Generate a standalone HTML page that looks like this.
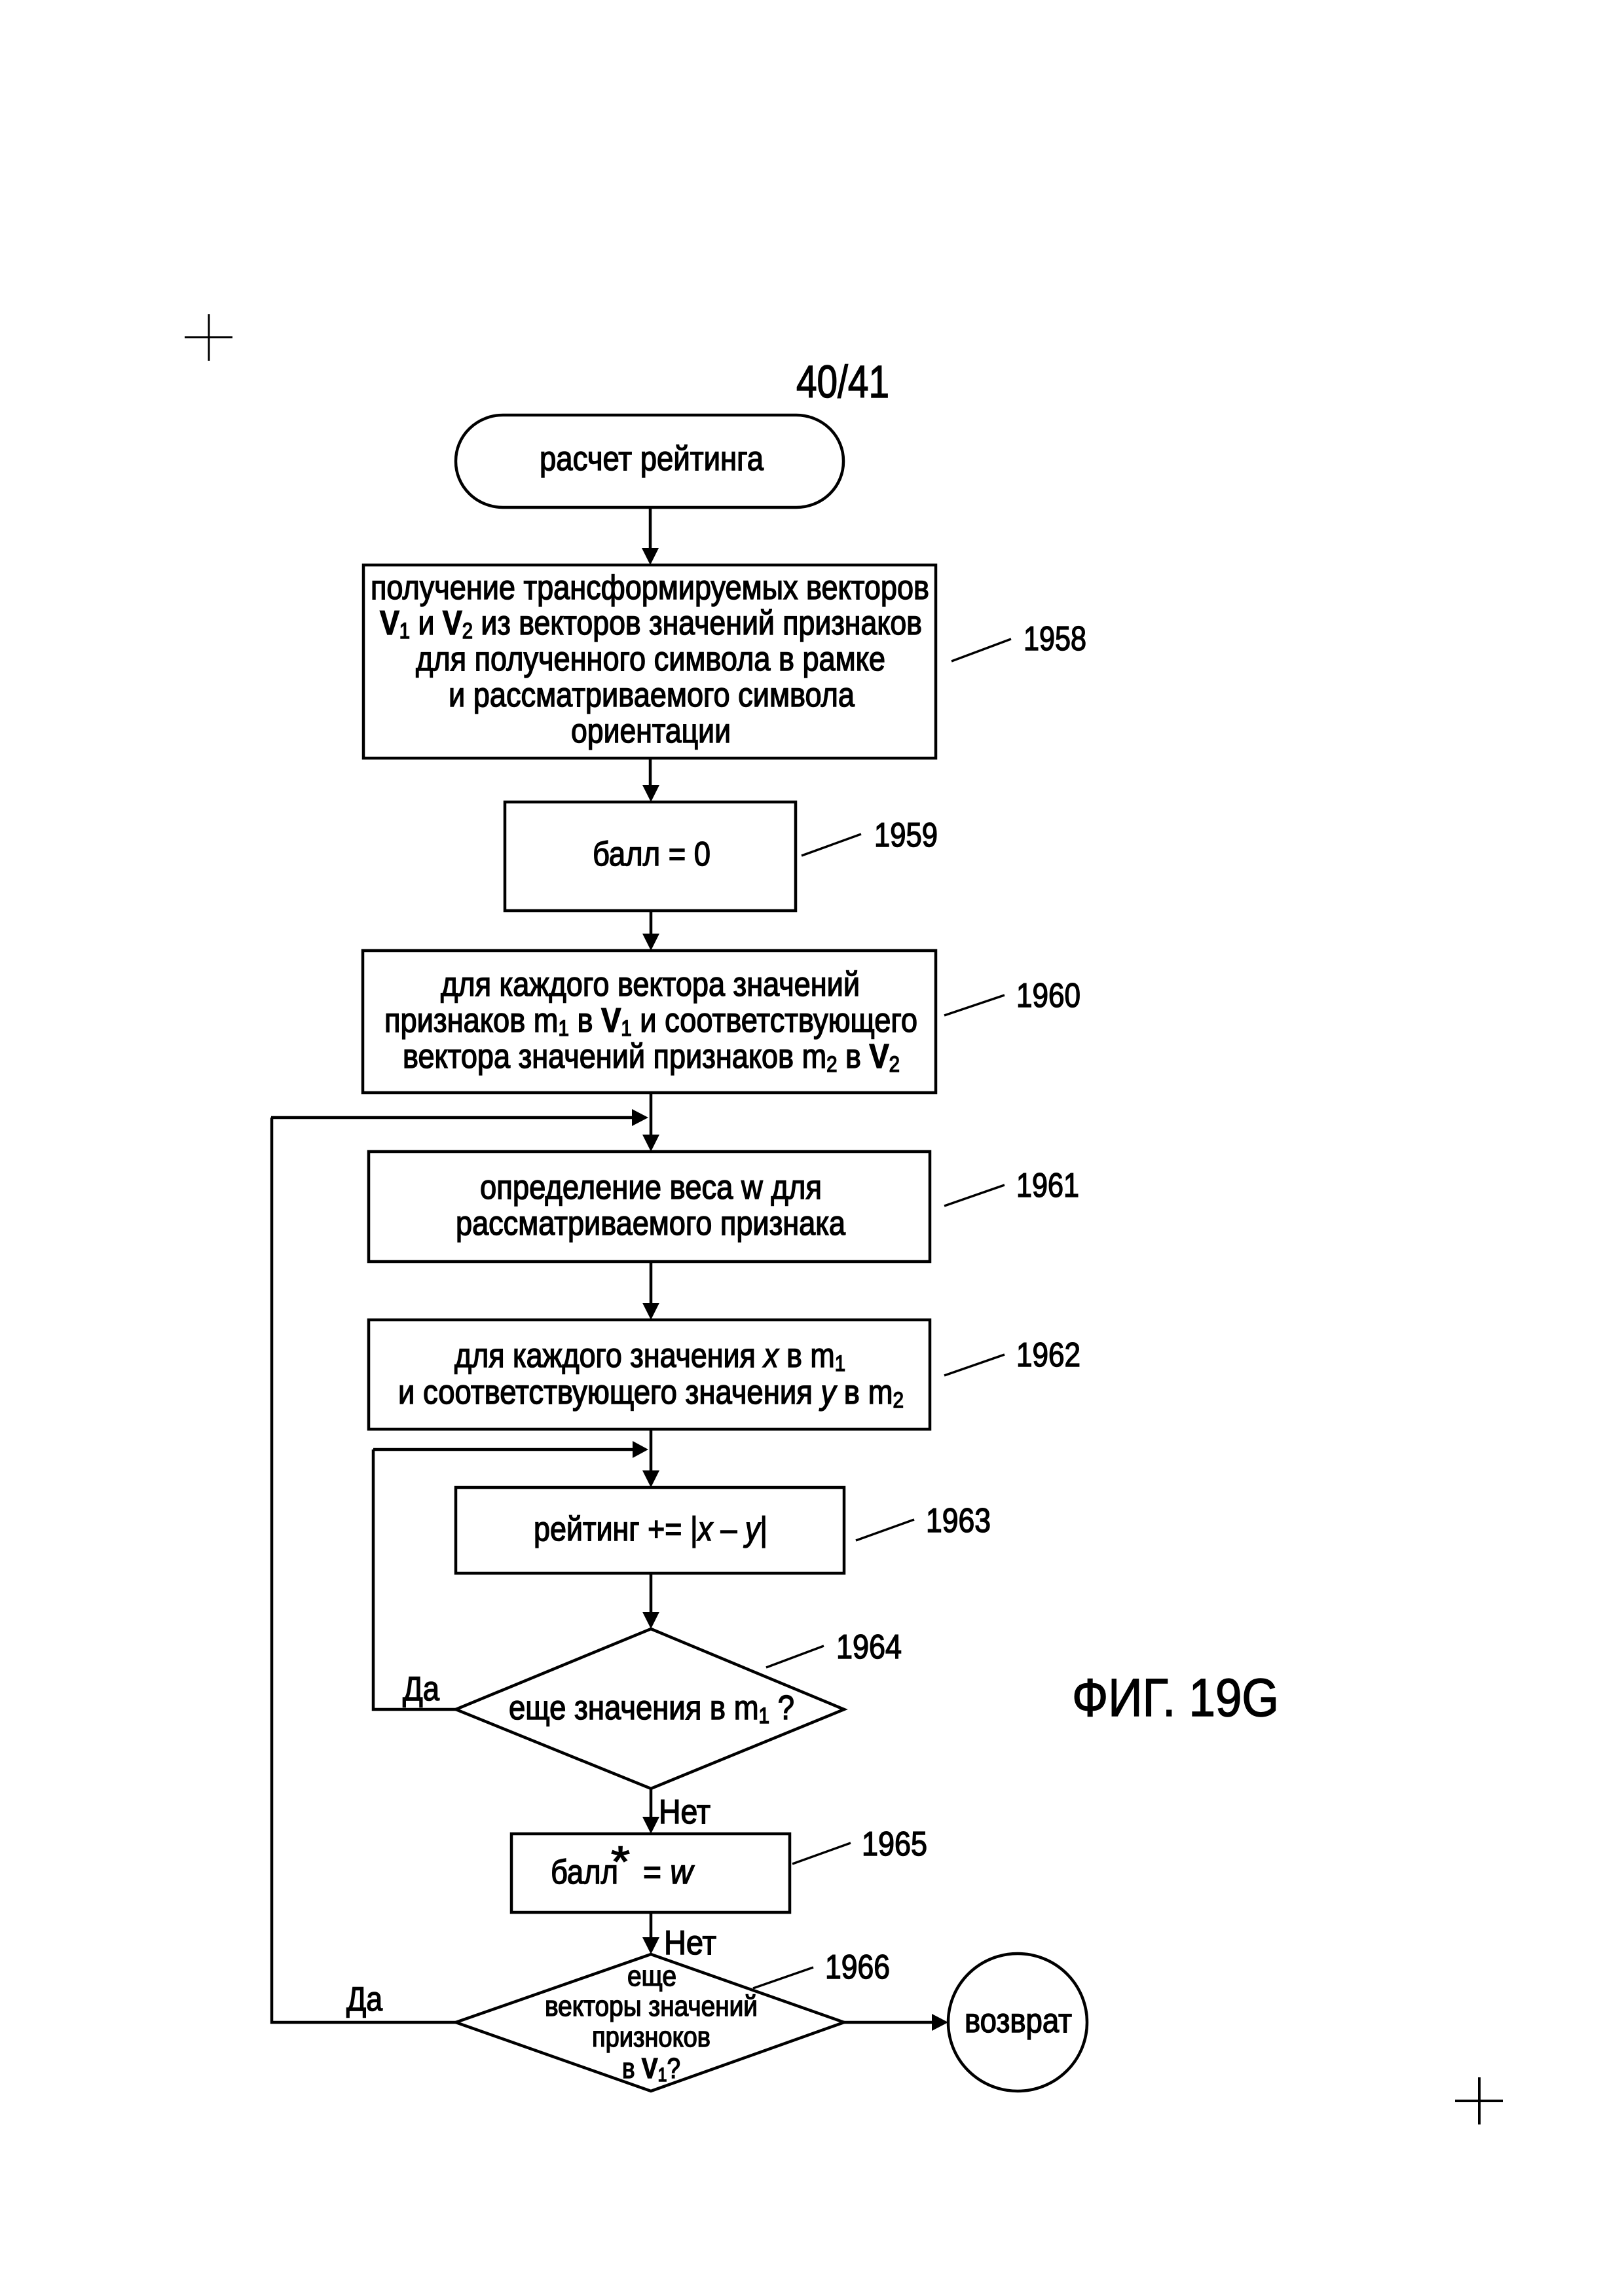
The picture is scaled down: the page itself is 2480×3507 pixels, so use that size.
<!DOCTYPE html>
<html><head><meta charset="utf-8"><style>
html,body{margin:0;padding:0;background:#fff}
svg{display:block}
text{font-family:"Liberation Sans",sans-serif;font-size:52px;fill:#000;stroke:#000;stroke-width:1.5px;text-anchor:start}
.s{font-size:34px}
.b{font-weight:bold}
.i{font-style:italic}
.d{font-size:44px}
.l{fill:none;stroke:#000;stroke-width:4.5}
.n{fill:#fff;stroke:#000;stroke-width:4.5}
.h{fill:#000;stroke:none}
</style></head><body>
<svg xmlns="http://www.w3.org/2000/svg" width="2480" height="3507" viewBox="0 0 2480 3507">
<rect width="2480" height="3507" fill="#fff"/>
<!-- registration crosses -->
<path class="l" style="stroke-width:3" d="M319 480V551M282 515H355"/>
<path class="l" style="stroke-width:4" d="M2259 3173V3245M2222 3209H2295"/>

<!-- connectors -->
<path class="l" d="M993 775V845M993 1158V1205M994 1391V1435M994 1669V1740M414 1707H970M994 1927V2000M994 2183V2255M570 2214H970M994 2403V2470M994 2732V2785M994 2921V2970M696 2611H570V2214M696 3089H415V1707M1289 3089H1428"/>
<polygon class="h" points="980,837 1006,837 993,863"/>
<polygon class="h" points="981,1199 1007,1199 994,1225"/>
<polygon class="h" points="981,1426 1007,1426 994,1452"/>
<polygon class="h" points="981,1733 1007,1733 994,1759"/>
<polygon class="h" points="981,1990 1007,1990 994,2016"/>
<polygon class="h" points="981,2246 1007,2246 994,2272"/>
<polygon class="h" points="981,2462 1007,2462 994,2488"/>
<polygon class="h" points="981,2775 1007,2775 994,2801"/>
<polygon class="h" points="981,2959 1007,2959 994,2985"/>
<polygon class="h" points="965,1694 965,1720 990,1707"/>
<polygon class="h" points="966,2201 966,2227 990,2214"/>
<polygon class="h" points="1423,3076 1423,3102 1448,3089"/>

<!-- nodes -->
<rect class="n" x="696" y="634" width="592" height="141" rx="72" ry="70"/>
<rect class="n" x="555" y="863" width="874" height="295"/>
<rect class="n" x="771" y="1225" width="444" height="166"/>
<rect class="n" x="554" y="1452" width="875" height="217"/>
<rect class="n" x="563" y="1759" width="857" height="168"/>
<rect class="n" x="563" y="2016" width="857" height="167"/>
<rect class="n" x="696" y="2272" width="593" height="131"/>
<polygon class="n" points="994,2488 1289,2611 994,2732 696,2611"/>
<rect class="n" x="781" y="2801" width="425" height="120"/>
<polygon class="n" points="994,2985 1289,3089 994,3194 696,3089"/>
<ellipse class="n" cx="1554" cy="3089" rx="106" ry="105"/>

<!-- leaders -->
<path class="l" style="stroke-width:3.5" d="M1453 1010L1544 976M1224 1307L1315 1274M1442 1551L1534 1520M1442 1842L1534 1810M1442 2101L1534 2069M1307 2353L1396 2321M1170 2547L1258 2514M1210 2847L1299 2815M1150 3037L1242 3005"/>

<!-- text -->
<text x="1216" y="607" style="font-size:70px" textLength="142" lengthAdjust="spacingAndGlyphs">40/41</text>
<text x="824" y="718" textLength="342" lengthAdjust="spacingAndGlyphs">расчет рейтинга</text>

<text x="566" y="915" textLength="853" lengthAdjust="spacingAndGlyphs">получение трансформируемых векторов</text>
<text x="580" y="969" textLength="828" lengthAdjust="spacingAndGlyphs"><tspan class="b">V</tspan><tspan class="s" dy="6">1</tspan><tspan dy="-6"> и </tspan><tspan class="b">V</tspan><tspan class="s" dy="6">2</tspan><tspan dy="-6"> из векторов значений признаков</tspan></text>
<text x="635" y="1024" textLength="717" lengthAdjust="spacingAndGlyphs">для полученного символа в рамке</text>
<text x="685" y="1079" textLength="620" lengthAdjust="spacingAndGlyphs">и рассматриваемого символа</text>
<text x="872" y="1134" textLength="244" lengthAdjust="spacingAndGlyphs">ориентации</text>

<text x="905" y="1322" textLength="180" lengthAdjust="spacingAndGlyphs">балл = 0</text>

<text x="673" y="1521" textLength="640" lengthAdjust="spacingAndGlyphs">для каждого вектора значений</text>
<text x="587" y="1576" textLength="814" lengthAdjust="spacingAndGlyphs">признаков m<tspan class="s" dy="6">1</tspan><tspan dy="-6"> в </tspan><tspan class="b">V</tspan><tspan class="s" dy="6">1</tspan><tspan dy="-6"> и соответствующего</tspan></text>
<text x="615" y="1631" textLength="759" lengthAdjust="spacingAndGlyphs">вектора значений признаков m<tspan class="s" dy="6">2</tspan><tspan dy="-6"> в </tspan><tspan class="b">V</tspan><tspan class="s" dy="6">2</tspan></text>

<text x="733" y="1831" textLength="522" lengthAdjust="spacingAndGlyphs">определение веса w для</text>
<text x="696" y="1886" textLength="595" lengthAdjust="spacingAndGlyphs">рассматриваемого признака</text>

<text x="694" y="2088" textLength="597" lengthAdjust="spacingAndGlyphs">для каждого значения <tspan class="i">x</tspan> в m<tspan class="s" dy="6">1</tspan></text>
<text x="608" y="2144" textLength="772" lengthAdjust="spacingAndGlyphs">и соответствующего значения <tspan class="i">y</tspan> в m<tspan class="s" dy="6">2</tspan></text>

<text x="815" y="2353" textLength="357" lengthAdjust="spacingAndGlyphs">рейтинг += |<tspan class="i">x</tspan> – <tspan class="i">y</tspan>|</text>

<text x="777" y="2626" textLength="436" lengthAdjust="spacingAndGlyphs">еще значения в m<tspan class="s" dy="6">1</tspan><tspan dy="-6"> ?</tspan></text>
<text x="615" y="2597" textLength="56" lengthAdjust="spacingAndGlyphs">Да</text>
<text x="1006" y="2785" textLength="79" lengthAdjust="spacingAndGlyphs">Нет</text>

<text x="841" y="2877" textLength="103" lengthAdjust="spacingAndGlyphs">балл</text>
<text x="933" y="2866" style="font-size:66px" textLength="29" lengthAdjust="spacingAndGlyphs">*</text>
<text x="982" y="2877" textLength="76" lengthAdjust="spacingAndGlyphs">= <tspan class="i">w</tspan></text>

<text x="1014" y="2985" textLength="80" lengthAdjust="spacingAndGlyphs">Нет</text>
<text class="d" x="958" y="3033" textLength="75" lengthAdjust="spacingAndGlyphs">еще</text>
<text class="d" x="832" y="3079" textLength="325" lengthAdjust="spacingAndGlyphs">векторы значений</text>
<text class="d" x="904" y="3126" textLength="181" lengthAdjust="spacingAndGlyphs">призноков</text>
<text class="d" x="950" y="3174" textLength="89" lengthAdjust="spacingAndGlyphs">в <tspan class="b">V</tspan><tspan style="font-size:30px" dy="5">1</tspan><tspan dy="-5">?</tspan></text>
<text x="529" y="3071" textLength="55" lengthAdjust="spacingAndGlyphs">Да</text>
<text x="1473" y="3104" textLength="164" lengthAdjust="spacingAndGlyphs">возврат</text>

<text x="1563" y="993" textLength="96" lengthAdjust="spacingAndGlyphs">1958</text>
<text x="1335" y="1293" textLength="97" lengthAdjust="spacingAndGlyphs">1959</text>
<text x="1552" y="1538" textLength="98" lengthAdjust="spacingAndGlyphs">1960</text>
<text x="1552" y="1828" textLength="96" lengthAdjust="spacingAndGlyphs">1961</text>
<text x="1552" y="2087" textLength="98" lengthAdjust="spacingAndGlyphs">1962</text>
<text x="1414" y="2340" textLength="99" lengthAdjust="spacingAndGlyphs">1963</text>
<text x="1277" y="2533" textLength="100" lengthAdjust="spacingAndGlyphs">1964</text>
<text x="1316" y="2834" textLength="100" lengthAdjust="spacingAndGlyphs">1965</text>
<text x="1260" y="3022" textLength="99" lengthAdjust="spacingAndGlyphs">1966</text>

<text x="1637" y="2621" style="font-size:82px" textLength="316" lengthAdjust="spacingAndGlyphs">ФИГ. 19G</text>
</svg>
</body></html>
